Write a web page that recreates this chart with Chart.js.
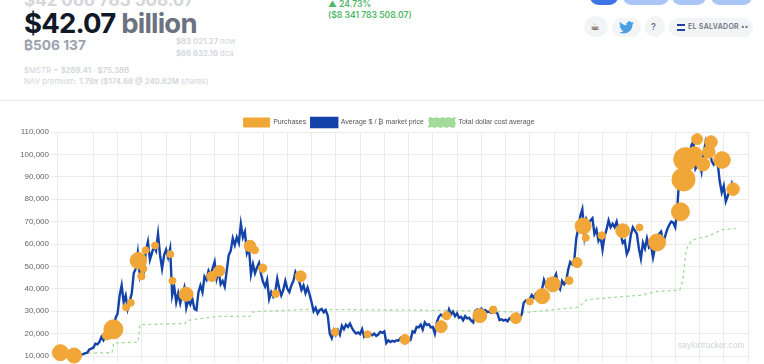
<!DOCTYPE html>
<html>
<head>
<meta charset="utf-8">
<title>Saylor tracker</title>
<script src="https://cdn.jsdelivr.net/npm/chart.js@4"></script>
<style>
    html, body { margin: 0; padding: 0; background: #fff; }
    body { width: 764px; height: 364px; overflow: hidden; position: relative; font-family: Inter, "Liberation Sans", sans-serif; filter: blur(0.35px); }
    .t { position: absolute; white-space: nowrap; line-height: 1; }
    .pill { position: absolute; background: #f3f4f6; border-radius: 12px; }
    .top { position: absolute; top: -12px; height: 17px; border-radius: 9px; background: #a9c6f6; }
    #chart-box { position: absolute; left: 0; top: 108px; width: 764px; height: 262px; }
</style>
</head>
<body>
<div class="t" style="left:24px;top:-8px;font-size:17px;font-weight:700;color:#d4d6da">$42 066 783 508.07</div>
<div class="t" style="left:24px;top:10px;font-size:27.5px;font-weight:700;color:#111827;letter-spacing:-0.8px">$42.07 <span style="color:#6b7280">billion</span></div>
<div class="t" style="left:24px;top:39px;font-size:13.7px;font-weight:700;color:#9ca3af">₿506 137</div>
<div class="t" style="left:176px;top:38px;font-size:7.8px;font-weight:600;color:#d1d5db">$83 021.27 <span style="font-weight:400">now</span></div>
<div class="t" style="left:176px;top:50px;font-size:7.8px;font-weight:600;color:#d1d5db">$66 632.16 <span style="font-weight:400">dca</span></div>
<div class="t" style="left:24px;top:67px;font-size:7.8px;color:#d1d5db">$MSTR = <b style="font-weight:600">$289.41 · $75.38B</b></div>
<div class="t" style="left:24px;top:78px;font-size:7.8px;color:#d1d5db">NAV premium: <b style="font-weight:600">1.79x ($174.68 @ 240.82M</b> shares)</div>
<div class="t" style="left:328px;top:0;font-size:8.6px;font-weight:600;color:#4fb76a">▲ 24.73%</div>
<div class="t" style="left:328px;top:11px;font-size:8.6px;font-weight:600;color:#4fb76a">($8 341 783 508.07)</div>

<div class="top" style="left:590px;width:28px;background:#3f74e8"></div>
<div class="top" style="left:623px;width:46px"></div>
<div class="top" style="left:672px;width:34px"></div>
<div class="top" style="left:711px;width:41px"></div>

<div class="pill" style="left:584px;top:16px;width:24px;height:21px"></div>
<div class="t" style="left:590px;top:21px;font-size:11px;color:#5b4636;font-family:'DejaVu Sans'">☕</div>
<div class="pill" style="left:612px;top:18px;width:29px;height:19px"></div>
<svg style="position:absolute;left:619px;top:20px" width="15" height="15" viewBox="0 0 24 24"><path fill="#4a9fe3" d="M23.95 4.57a10 10 0 0 1-2.82.77 4.96 4.96 0 0 0 2.16-2.72c-.95.55-2 .95-3.12 1.18a4.92 4.92 0 0 0-8.38 4.48C7.69 8.1 4.07 6.13 1.64 3.16a4.82 4.82 0 0 0-.67 2.48c0 1.71.87 3.21 2.19 4.1a4.9 4.9 0 0 1-2.23-.62v.06a4.92 4.92 0 0 0 3.95 4.83 5 5 0 0 1-2.21.08 4.94 4.94 0 0 0 4.6 3.42A9.87 9.87 0 0 1 0 19.54a14 14 0 0 0 7.56 2.21c9.05 0 14-7.5 14-13.98 0-.21 0-.42-.02-.63a9.94 9.94 0 0 0 2.41-2.57z"/></svg>
<div class="pill" style="left:645px;top:16px;width:20px;height:21px"></div>
<div class="t" style="left:651px;top:22px;font-size:9px;font-weight:600;color:#6b7280">?</div>
<div class="pill" style="left:669px;top:18px;width:84px;height:19px"></div>
<div style="position:absolute;left:677px;top:24px;width:8px;height:7px;background:linear-gradient(#1e3f9e 33%,#fff 33%,#fff 66%,#1e3f9e 66%)"></div>
<div class="t" style="left:688px;top:23px;font-size:7px;font-weight:600;letter-spacing:0.3px;color:#6b7280">EL SALVADOR ••</div>

<div style="position:absolute;left:0;top:100px;width:764px;height:1px;background:#e8e9eb"></div>

<div id="chart-box"><canvas id="tracker-chart" width="764" height="262"></canvas></div>
<div class="t" style="left:678px;top:341px;font-size:8.5px;color:#cfd2d6;font-family:'Liberation Sans'">saylortracker.com</div>

<script>
// x positions are months counted from Sep 2020, six market readings per month from Oct 2020
const monthTicks = 2;
const priceTicks = 10000;

const marketPrice = [
    10600, 10800, 11300, 11500, 12900, 13300,
    13700, 15500, 15200, 16300, 18500, 17000,
    18800, 19200, 18400, 23000, 22500, 27000,
    29000, 37000, 41500, 34000, 37000, 31000,
    34500, 38000, 47000, 49000, 56000, 46000,
    50000, 48000, 57000, 61000, 53000, 56000,
    59000, 57000, 64500, 55000, 49000, 55000,
    57500, 54000, 58000, 37000, 41000, 34000,
    38000, 33500, 37500, 40500, 31500, 35000,
    33000, 35500, 31000, 30500, 38500, 41500,
    38500, 45500, 44000, 48000, 46000, 49000,
    52000, 44500, 48000, 42000, 43500, 41000,
    48000, 55000, 57000, 62500, 59500, 63000,
    60500, 69000, 63000, 65500, 56000, 58500,
    46500, 51000, 47000, 49500, 51500, 46500,
    43000, 41000, 44000, 35500, 38500, 36500,
    38500, 44500, 40000, 37000, 39500, 43500,
    40000, 38500, 41500, 43500, 47500, 45500,
    43000, 39500, 41500, 38000, 40500, 37500,
    34000, 30000, 31500, 29000, 30500, 31000,
    29500, 30500, 28000, 20000, 18000, 21500,
    19500, 21500, 19500, 23500, 22000, 24000,
    23000, 24500, 22500, 21000, 20000, 20500,
    19800, 22000, 18700, 19800, 18800, 20000,
    19300, 20000, 19000, 19600, 20800, 20300,
    21000, 15800, 17000, 16200, 16800, 16400,
    17000, 16800, 18000, 16500, 17000, 16500,
    16700, 17200, 21000, 20500, 23000, 22800,
    24000, 21800, 25000, 23800, 24200, 22800,
    23000, 20000, 25000, 27500, 28500, 27800,
    28500, 27800, 30800, 28500, 29800, 27800,
    29000, 27000, 27500, 26000, 27800, 26800,
    27000, 25800, 25000, 30000, 30800, 30200,
    31200, 30200, 30500, 29600, 29800, 29200,
    29400, 29700, 29000, 26000, 26400, 25800,
    26200, 25500, 26800, 26400, 27000, 26500,
    27800, 26800, 28600, 33800, 34800, 34200,
    35500, 37200, 36000, 37800, 37200, 38000,
    39500, 44000, 41500, 43800, 42000, 43000,
    44500, 46500, 41500, 39800, 43500, 42000,
    43500, 48500, 52000, 51000, 52500, 62500,
    67000, 72500, 75500, 64000, 71000, 69000,
    70500, 71500, 64500, 66500, 61500, 63500,
    57500, 63500, 66500, 70500, 67500, 69000,
    67500, 70000, 65500, 64500, 60500, 61500,
    55500, 57500, 64000, 67500, 66000, 64500,
    58000, 53500, 60500, 58000, 62500, 58500,
    59500, 54000, 58500, 60000, 64500, 65500,
    60500, 63500, 66500, 68500, 70000, 69500,
    67500, 76000, 90000, 92000, 98000, 96000,
    97000, 100000, 104000, 106000, 93500, 95000,
    97500, 92500, 100000, 105500, 102000, 103000,
    97000, 95500, 97500, 96000, 88000, 83000,
    86000, 79000, 81500, 84000, 87000, 84000,
];

const purchaseMonth = [
    -0.72, 0.41, 3.11, 3.65, 4.7, 5.09, 5.71, 6.13, 5.96, 6.32,
    7.09, 8.35, 8.52, 9.65, 11.76, 12.39, 14.92, 15.31, 15.97, 17.04,
    19.1, 21.93, 24.62, 27.7, 30.69, 31.14, 33.88, 34.98, 36.85, 38,
    39.02, 39.9, 41.24, 41.9, 42.4, 42.62, 43.94, 45.67, 47.05, 48.5,
    50.43, 50.68, 50.84, 51.58, 51.8, 52.29, 52.76, 52.95, 53.86, 54.77,
];
const purchasePrice = [
    11500, 10200, 19200, 21900, 31700, 33800, 52600, 48900, 45600, 57200,
    59300, 55400, 43600, 37600, 45500, 48000, 59100, 57300, 49200, 37800,
    45600, 20700, 19700, 17400, 23100, 28000, 28000, 30600, 26900, 34300,
    36700, 42000, 43700, 51700, 68000, 62800, 63800, 65900, 67400, 60700,
    74400, 88800, 97800, 100100, 106800, 95600, 101100, 105500, 97500, 84500,
];
const purchaseSize = [
    8, 7.5, 4.5, 9.5, 3.5, 3.5, 8.2, 3.5, 3.7, 3.5,
    3.5, 3.5, 3.5, 7, 5, 5.5, 5.8, 3.8, 4.2, 3.8,
    5.5, 3.8, 3.5, 5, 6, 4.2, 7, 3.8, 5.5, 3.5,
    7.5, 7.5, 4, 5, 8, 3.5, 3.7, 7, 3.5, 8.5,
    9, 11.5, 11.7, 7.5, 5.5, 6.7, 6.3, 6.3, 8.3, 6.3,
];

const dcaMonth = [
    1.07, 3.54, 3.67, 5.69, 5.85, 9.56, 9.73, 12.37, 14.92, 15.09,
    16, 19.95, 27.3, 33.9, 36.85, 38, 42.04, 42.7, 47.07, 48.47,
    50.37, 50.62, 50.87, 51.03, 51.44, 52.84, 53.83, 54.98,
];
const dcaPrice = [
    11200, 11500, 15800, 16200, 24000, 24500, 25900, 27700, 27700, 29600,
    30000, 30800, 30500, 30200, 29600, 29600, 31800, 35200, 37100, 38800,
    39400, 43700, 55700, 59300, 61900, 63700, 66400, 66900,
];

const chartCanvas = document.getElementById("tracker-chart");

// the legend sits right of centre and closer to the plot in the original
const legendShift = {
    id: "legendShift",
    afterLayout(chart) {
        chart.legend.left += 15;
        chart.legend.right += 15;
        chart.legend.top += 5;
        chart.legend.bottom += 5;
    },
};

const trackerChart = new Chart(chartCanvas, {
    type: "bubble",
    plugins: [legendShift],
    data: {
        datasets: [
            {
                type: "bubble",
                label: "Purchases",
                data: purchaseMonth.map((m, i) => ({ x: m, y: purchasePrice[i], r: purchaseSize[i] })),
                backgroundColor: "#f1a638",
                borderColor: "#f1a638",
                borderWidth: 1,
                clip: false,
                order: 1,
            },
            {
                type: "line",
                label: "Average $ / ₿ market price",
                data: marketPrice.map((p, i) => ({ x: 1 + i / 6, y: p })),
                backgroundColor: "#1342a8",
                borderColor: "#1342a8",
                borderWidth: 2.4,
                pointRadius: 0,
                tension: 0,
                order: 2,
            },
            {
                type: "line",
                label: "Total dollar cost average",
                data: dcaMonth.map((m, i) => ({ x: m, y: dcaPrice[i] })),
                backgroundColor: "#a3db9b",
                borderColor: "#a3db9b",
                borderWidth: 1.3,
                borderDash: [3, 3],
                pointRadius: 0,
                tension: 0,
                order: 3,
            },
        ],
    },
    options: {
        responsive: false,
        animation: false,
        layout: { padding: { left: 0, right: 16, top: 0, bottom: 0 } },
        scales: {
            x: {
                type: "linear",
                min: -1,
                max: 56,
                grid: { color: "#ebebeb", tickLength: 6 },
                border: { display: false },
                ticks: { stepSize: monthTicks, autoSkip: false, display: false },
                afterFit: (scale) => { scale.height = 14; },
            },
            y: {
                min: 10000,
                max: 110000,
                grid: { color: "#ebebeb", tickLength: 6 },
                border: { display: false },
                ticks: {
                    stepSize: priceTicks,
                    padding: 2,
                    color: "#666",
                    font: { family: "Liberation Sans", size: 8 },
                    callback: (value) => value.toLocaleString("en-US"),
                },
                afterFit: (scale) => { scale.width = 57; },
            },
        },
        plugins: {
            tooltip: { enabled: false },
            legend: {
                display: true,
                labels: {
                    boxWidth: 26,
                    boxHeight: 9,
                    padding: 5,
                    color: "#555",
                    font: { family: "Liberation Sans", size: 7 },
                },
            },
        },
    },
});
</script>
</body>
</html>
